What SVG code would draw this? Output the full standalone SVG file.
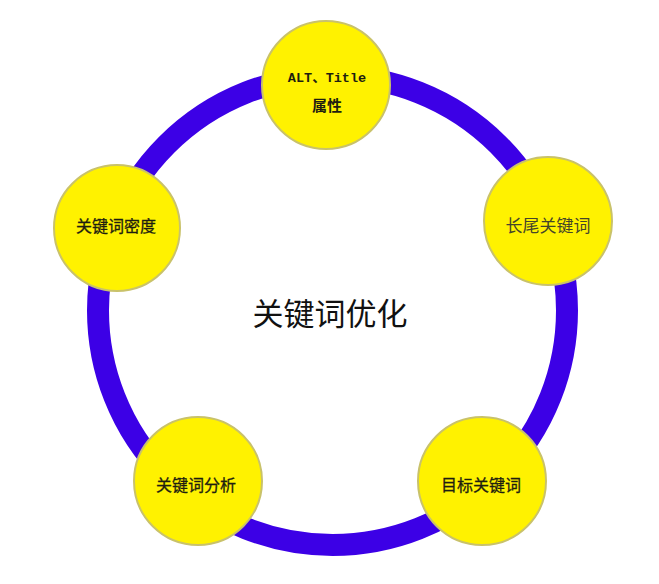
<svg xmlns="http://www.w3.org/2000/svg" width="659" height="584" viewBox="0 0 659 584">
<style>
.node{fill:#fff200;stroke:#c9c26a;stroke-width:2}
.lbl{font-family:"Noto Sans CJK SC","Noto Sans",sans-serif;font-size:16px;fill:#1e1e10;text-anchor:middle}
</style>
<rect width="659" height="584" fill="#ffffff"/>
<g id="connectors">
<circle cx="332.5" cy="310.5" r="234.5" fill="none" stroke="#3c00e6" stroke-width="22"/>
</g>
<g id="center">
<text x="330" y="325" style="font-family:'Noto Sans CJK SC',sans-serif;font-size:31px;fill:#111;text-anchor:middle">关键词优化</text>
</g>
<g id="node-top">
<circle class="node" cx="326" cy="85" r="64"/>
<text x="327" y="82" style="font-family:'Liberation Mono','Noto Sans CJK SC',monospace;font-size:13.5px;font-weight:bold;fill:#1e1e10;text-anchor:middle">ALT、Title</text>
<text x="327" y="111" style="font-family:'Noto Sans CJK SC',sans-serif;font-size:15px;font-weight:bold;fill:#1e1e10;text-anchor:middle">属性</text>
</g>
<g id="node-right">
<circle class="node" cx="548" cy="221" r="64"/>
<text class="lbl" x="548" y="232" style="font-size:17px;fill:#45452a">长尾关键词</text>
</g>
<g id="node-left">
<circle class="node" cx="117" cy="228" r="63"/>
<text class="lbl" x="116" y="232" style="stroke:#1e1e10;stroke-width:0.3">关键词密度</text>
</g>
<g id="node-bottom-left">
<circle class="node" cx="198" cy="481" r="64"/>
<text class="lbl" x="196" y="491" style="stroke:#1e1e10;stroke-width:0.3">关键词分析</text>
</g>
<g id="node-bottom-right">
<circle class="node" cx="482" cy="481" r="64"/>
<text class="lbl" x="481" y="491" style="stroke:#1e1e10;stroke-width:0.3">目标关键词</text>
</g>
</svg>
